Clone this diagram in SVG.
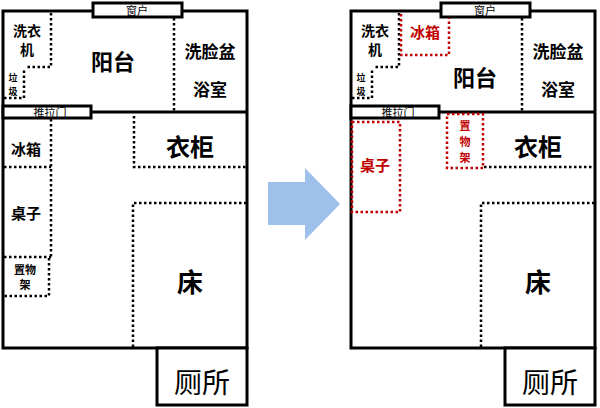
<svg xmlns="http://www.w3.org/2000/svg" width="600" height="408" viewBox="0 0 600 408">
<style>
.w{fill:none;stroke:#000;stroke-width:3}
.d{fill:none;stroke:#000;stroke-width:2.5;stroke-dasharray:2.5 2.5}
.r{fill:none;stroke:#c00000;stroke-width:2.5;stroke-dasharray:2.5 2.5}
.box{fill:#fff;stroke:#000;stroke-width:3}
text{font-family:"Noto Sans CJK SC",sans-serif;font-weight:bold;text-anchor:middle;fill:#000}
text.n{font-weight:normal}
text.red{fill:#c00000}
</style>
<rect width="600" height="408" fill="#fff"/>
<g id="plan-left">
<rect class="w" x="3" y="11" width="244" height="337"/>
<line class="w" x1="3" y1="112" x2="247" y2="112"/>
<rect class="box" x="157" y="348" width="90" height="57"/>
<rect class="box" x="93" y="3" width="89" height="14"/>
<rect class="box" x="3" y="106" width="88" height="12"/>
<polyline class="d" points="51,13 51,67 26,67"/>
<polyline class="d" points="4,98 24,98 24,68"/>
<line class="d" x1="174" y1="18" x2="174" y2="111"/>
<polyline class="d" points="134,116 134,167 247,167"/>
<line class="d" x1="51" y1="119" x2="51" y2="257"/>
<line class="d" x1="4" y1="167" x2="51" y2="167"/>
<line class="d" x1="4" y1="257" x2="51" y2="257"/>
<polyline class="d" points="49,258 49,296 4,296"/>
<polyline class="d" points="133,347 133,203 247,203"/>
<text class="n" x="137" y="15" font-size="11">窗户</text>
<text class="n" x="50" y="117" font-size="11">推拉门</text>
<text x="27" y="36" font-size="14">洗衣</text>
<text x="27" y="55" font-size="14">机</text>
<text x="13" y="81" font-size="9">垃</text>
<text x="13" y="95" font-size="9">圾</text>
<text x="113" y="70" font-size="22">阳台</text>
<text x="210" y="58" font-size="17">洗脸盆</text>
<text x="210" y="96" font-size="17">浴室</text>
<text x="26" y="155" font-size="15">冰箱</text>
<text x="190" y="156" font-size="24">衣柜</text>
<text x="26" y="219" font-size="15">桌子</text>
<text x="25" y="274" font-size="11">置物</text>
<text x="25" y="289" font-size="11">架</text>
<text x="190" y="292" font-size="26">床</text>
<text class="n" x="202" y="393" font-size="28">厕所</text>
</g>
<g id="arrow">
<polygon points="268,182 305,182 305,168 340,204 305,240 305,225 268,225" fill="#9ec0ea"/>
</g>
<g id="plan-right">
<rect class="w" x="351" y="11" width="244" height="337"/>
<line class="w" x1="351" y1="112" x2="595" y2="112"/>
<rect class="box" x="505" y="348" width="90" height="57"/>
<rect class="box" x="441" y="3" width="89" height="14"/>
<rect class="box" x="351" y="106" width="88" height="12"/>
<polyline class="d" points="399,13 399,67 374,67"/>
<polyline class="d" points="352,98 372,98 372,68"/>
<line class="d" x1="522" y1="18" x2="522" y2="111"/>
<polyline class="d" points="484,167 595,167"/>
<polyline class="d" points="481,347 481,203 595,203"/>
<polyline class="r" points="401,14 401,55 449,55 449,18"/>
<rect class="r" x="352" y="122" width="48" height="90"/>
<rect class="r" x="447" y="114" width="36" height="54"/>
<text class="n" x="485" y="15" font-size="11">窗户</text>
<text class="n" x="398" y="117" font-size="11">推拉门</text>
<text x="375" y="36" font-size="14">洗衣</text>
<text x="375" y="55" font-size="14">机</text>
<text x="361" y="81" font-size="9">垃</text>
<text x="361" y="95" font-size="9">圾</text>
<text class="red" x="425" y="38" font-size="15">冰箱</text>
<text x="475" y="86" font-size="22">阳台</text>
<text x="558" y="58" font-size="17">洗脸盆</text>
<text x="558" y="96" font-size="17">浴室</text>
<text class="red" x="375" y="171" font-size="15">桌子</text>
<text class="red" x="465" y="130" font-size="11">置</text>
<text class="red" x="465" y="146" font-size="11">物</text>
<text class="red" x="465" y="162" font-size="11">架</text>
<text x="538" y="156" font-size="24">衣柜</text>
<text x="538" y="292" font-size="26">床</text>
<text class="n" x="550" y="393" font-size="28">厕所</text>
</g>
</svg>
